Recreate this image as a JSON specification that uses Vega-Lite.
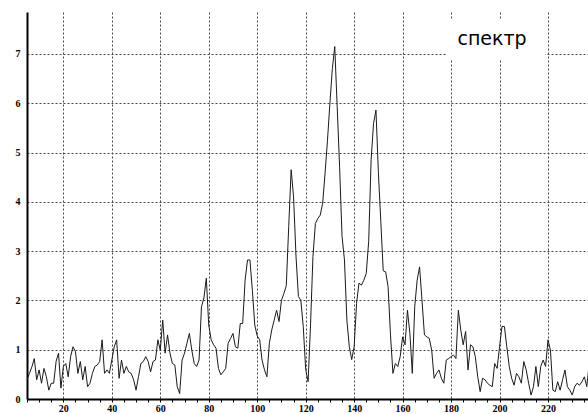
{
  "$schema": "https://vega.github.io/schema/vega-lite/v6.json",
  "width": 561,
  "height": 387,
  "autosize": {"type": "none"},
  "padding": {"left": 27, "top": 12, "right": 0, "bottom": 15},
  "background": "white",
  "config": {"view": {"stroke": null}},
  "datasets": {
    "spectrum": [
      {"x":5,"y":0.39},{"x":6,"y":0.52},{"x":7,"y":0.65},{"x":8,"y":0.82},{"x":9,"y":0.39},{"x":10,"y":0.59},{"x":11,"y":0.32},{"x":12,"y":0.62},{"x":13,"y":0.45},{"x":14,"y":0.18},
      {"x":15,"y":0.32},{"x":16,"y":0.32},{"x":17,"y":0.76},{"x":18,"y":0.93},{"x":19,"y":0.22},{"x":20,"y":0.66},{"x":21,"y":0.72},{"x":22,"y":0.45},{"x":23,"y":0.86},{"x":24,"y":1.06},
      {"x":25,"y":0.96},{"x":26,"y":0.52},{"x":27,"y":0.76},{"x":28,"y":0.39},{"x":29,"y":0.66},{"x":30,"y":0.25},{"x":31,"y":0.32},{"x":32,"y":0.52},{"x":33,"y":0.66},{"x":34,"y":0.69},
      {"x":35,"y":0.76},{"x":36,"y":1.2},{"x":37,"y":0.52},{"x":38,"y":0.59},{"x":39,"y":0.52},{"x":40,"y":0.79},{"x":41,"y":1.06},{"x":42,"y":1.2},{"x":43,"y":0.42},{"x":44,"y":0.79},
      {"x":45,"y":0.52},{"x":46,"y":0.66},{"x":47,"y":0.55},{"x":48,"y":0.52},{"x":49,"y":0.39},{"x":50,"y":0.18},{"x":51,"y":0.45},{"x":52,"y":0.72},{"x":53,"y":0.76},{"x":54,"y":0.86},
      {"x":55,"y":0.76},{"x":56,"y":0.55},{"x":57,"y":0.76},{"x":58,"y":0.79},{"x":59,"y":1.2},{"x":60,"y":0.99},{"x":61,"y":1.6},{"x":62,"y":0.93},{"x":63,"y":1.3},{"x":64,"y":0.93},
      {"x":65,"y":0.72},{"x":66,"y":0.69},{"x":67,"y":0.25},{"x":68,"y":0.11},{"x":69,"y":0.79},{"x":70,"y":0.93},{"x":71,"y":1.13},{"x":72,"y":1.33},{"x":73,"y":0.99},{"x":74,"y":0.72},
      {"x":75,"y":0.66},{"x":76,"y":0.79},{"x":77,"y":1.87},{"x":78,"y":2.05},{"x":79,"y":2.45},{"x":80,"y":1.5},{"x":81,"y":1.2},{"x":82,"y":1.1},{"x":83,"y":1.03},{"x":84,"y":0.62},
      {"x":85,"y":0.49},{"x":86,"y":0.55},{"x":87,"y":0.62},{"x":88,"y":1.13},{"x":89,"y":1.23},{"x":90,"y":1.33},{"x":91,"y":1.06},{"x":92,"y":1.03},{"x":93,"y":1.53},{"x":94,"y":1.53},
      {"x":95,"y":2.41},{"x":96,"y":2.82},{"x":97,"y":2.82},{"x":98,"y":2.2},{"x":99,"y":1.5},{"x":100,"y":1.28},{"x":101,"y":1.2},{"x":102,"y":0.79},{"x":103,"y":0.59},{"x":104,"y":0.45},
      {"x":105,"y":1.13},{"x":106,"y":1.4},{"x":107,"y":1.6},{"x":108,"y":1.8},{"x":109,"y":1.57},{"x":110,"y":2.0},{"x":111,"y":2.14},{"x":112,"y":2.3},{"x":113,"y":3.5},{"x":114,"y":4.65},
      {"x":115,"y":4.1},{"x":116,"y":2.9},{"x":117,"y":2.08},{"x":118,"y":2.0},{"x":119,"y":1.47},{"x":120,"y":0.6},{"x":121,"y":0.35},{"x":122,"y":1.5},{"x":123,"y":2.89},{"x":124,"y":3.56},
      {"x":125,"y":3.66},{"x":126,"y":3.73},{"x":127,"y":3.97},{"x":128,"y":4.58},{"x":129,"y":5.25},{"x":130,"y":6.0},{"x":131,"y":6.7},{"x":132,"y":7.15},{"x":133,"y":5.93},{"x":134,"y":4.71},
      {"x":135,"y":3.3},{"x":136,"y":2.82},{"x":137,"y":1.6},{"x":138,"y":1.06},{"x":139,"y":0.8},{"x":140,"y":1.06},{"x":141,"y":1.94},{"x":142,"y":2.35},{"x":143,"y":2.31},{"x":144,"y":2.41},
      {"x":145,"y":2.55},{"x":146,"y":3.2},{"x":147,"y":4.85},{"x":148,"y":5.59},{"x":149,"y":5.86},{"x":150,"y":4.6},{"x":151,"y":3.6},{"x":152,"y":2.6},{"x":153,"y":2.58},{"x":154,"y":2.28},
      {"x":155,"y":1.3},{"x":156,"y":0.52},{"x":157,"y":0.72},{"x":158,"y":0.66},{"x":159,"y":0.86},{"x":160,"y":1.26},{"x":161,"y":1.1},{"x":162,"y":1.8},{"x":163,"y":1.33},{"x":164,"y":0.52},
      {"x":165,"y":1.87},{"x":166,"y":2.41},{"x":167,"y":2.68},{"x":168,"y":2.0},{"x":169,"y":1.3},{"x":170,"y":1.26},{"x":171,"y":1.23},{"x":172,"y":0.99},{"x":173,"y":0.42},{"x":174,"y":0.52},
      {"x":175,"y":0.59},{"x":176,"y":0.42},{"x":177,"y":0.32},{"x":178,"y":0.79},{"x":179,"y":0.82},{"x":180,"y":0.86},{"x":181,"y":0.89},{"x":182,"y":0.82},{"x":183,"y":1.8},{"x":184,"y":1.4},
      {"x":185,"y":1.1},{"x":186,"y":1.37},{"x":187,"y":0.59},{"x":188,"y":1.1},{"x":189,"y":1.06},{"x":190,"y":0.86},{"x":191,"y":0.45},{"x":192,"y":0.15},{"x":193,"y":0.42},{"x":194,"y":0.39},
      {"x":195,"y":0.32},{"x":196,"y":0.28},{"x":197,"y":0.25},{"x":198,"y":0.72},{"x":199,"y":0.62},{"x":200,"y":1.06},{"x":201,"y":1.47},{"x":202,"y":1.47},{"x":203,"y":1.06},{"x":204,"y":0.66},
      {"x":205,"y":0.42},{"x":206,"y":0.28},{"x":207,"y":0.52},{"x":208,"y":0.45},{"x":209,"y":0.32},{"x":210,"y":0.76},{"x":211,"y":0.59},{"x":212,"y":0.32},{"x":213,"y":0.08},{"x":214,"y":0.25},
      {"x":215,"y":0.66},{"x":216,"y":0.25},{"x":217,"y":0.66},{"x":218,"y":0.79},{"x":219,"y":0.66},{"x":220,"y":1.2},{"x":221,"y":0.99},{"x":222,"y":0.18},{"x":223,"y":0.15},{"x":224,"y":0.35},
      {"x":225,"y":0.18},{"x":226,"y":0.39},{"x":227,"y":0.59},{"x":228,"y":0.25},{"x":229,"y":0.18},{"x":230,"y":0.08},{"x":231,"y":0.25},{"x":232,"y":0.32},{"x":233,"y":0.28},{"x":234,"y":0.35},
      {"x":235,"y":0.45},{"x":236,"y":0.25},{"x":237,"y":0.72}
    ],
    "label": [
      {"x1": 177.9, "x2": 218.8, "y1": 6.88, "y2": 7.71, "xc": 196.9, "yb": 7.18, "text": "спектр"}
    ]
  },
  "resolve": {"axis": {"x": "independent"}},
  "layer": [
    {
      "data": {"name": "spectrum"},
      "mark": {"type": "line", "color": "#1a1a1a", "strokeWidth": 1, "clip": true},
      "encoding": {
        "x": {
          "field": "x", "type": "quantitative",
          "scale": {"domain": [5, 236.5], "nice": false, "zero": false},
          "axis": {
            "title": null,
            "orient": "bottom",
            "values": [20,40,60,80,100,120,140,160,180,200,220],
            "grid": true,
            "gridColor": "#444444", "gridDash": [2, 2], "gridWidth": 1,
            "domainColor": "black", "domainWidth": 2,
            "tickColor": "black", "tickSize": 3, "tickWidth": 1,
            "labelFont": "Liberation Serif", "labelFontWeight": "bold", "labelFontSize": 10,
            "labelColor": "black", "labelPadding": 1, "labelFlush": false, "labelOverlap": false
          }
        },
        "y": {
          "field": "y", "type": "quantitative",
          "scale": {"domain": [0, 7.85], "nice": false, "zero": true},
          "axis": {
            "title": null,
            "values": [0,1,2,3,4,5,6,7],
            "grid": true,
            "gridColor": "#444444", "gridDash": [2, 2], "gridWidth": 1,
            "domainColor": "black", "domainWidth": 2,
            "ticks": false,
            "labelFont": "Liberation Serif", "labelFontWeight": "bold", "labelFontSize": 10,
            "labelColor": "black", "labelPadding": 7, "labelFlush": false, "labelOverlap": false
          }
        }
      }
    },
    {
      "data": {"name": "label"},
      "mark": {"type": "rect", "fill": "white", "stroke": null},
      "encoding": {
        "x": {
          "field": "x1", "type": "quantitative",
          "axis": {
            "title": null, "orient": "bottom",
            "values": [5,10,15,25,30,35,45,50,55,65,70,75,85,90,95,105,110,115,125,130,135,145,150,155,165,170,175,185,190,195,205,210,215,225,230,235],
            "labels": false, "grid": false, "domain": false,
            "tickColor": "black", "tickSize": 3, "tickWidth": 1
          }
        },
        "x2": {"field": "x2"},
        "y": {"field": "y1", "type": "quantitative", "axis": {"title": null}},
        "y2": {"field": "y2"}
      }
    },
    {
      "data": {"name": "label"},
      "mark": {"type": "text", "font": "DejaVu Sans", "fontSize": 19, "align": "center", "baseline": "alphabetic", "color": "black"},
      "encoding": {
        "x": {"field": "xc", "type": "quantitative", "axis": null},
        "y": {"field": "yb", "type": "quantitative", "axis": {"title": null}},
        "text": {"field": "text"}
      }
    }
  ]
}
